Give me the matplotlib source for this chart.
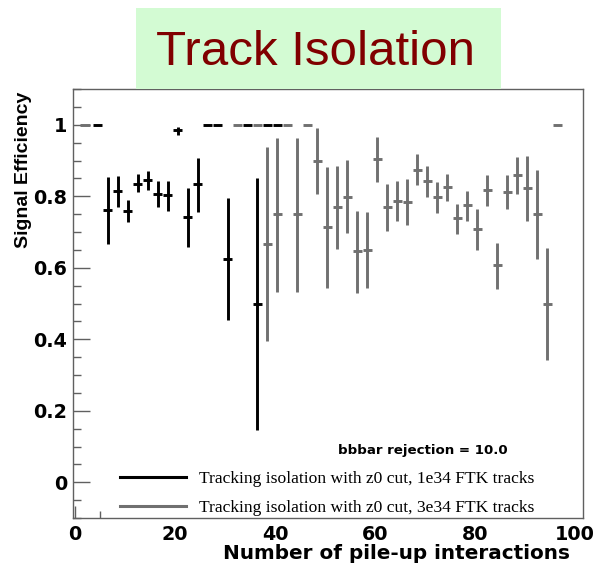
import matplotlib
matplotlib.use("Agg")
import matplotlib.pyplot as plt
from matplotlib.lines import Line2D
from matplotlib.patches import Rectangle
from matplotlib.ticker import FixedLocator, MultipleLocator

# ---- data ----
x_1e34 = [4.5, 6.5, 8.5, 10.5, 12.5, 14.5, 16.5, 18.5, 20.5, 22.5, 24.5, 26.5, 28.5,
          30.5, 34.5, 36.5, 38.5, 40.5]
y_1e34 = [1.0, 0.761, 0.816, 0.760, 0.835, 0.846, 0.807, 0.803, 0.984, 0.742, 0.833, 1.0, 1.0,
          0.625, 1.0, 0.5, 1.0, 1.0]
lo_1e34 = [0, 0.094, 0.045, 0.032, 0.023, 0.028, 0.037, 0.043, 0.014, 0.084, 0.077, 0, 0,
           0.172, 0, 0.353, 0, 0]
hi_1e34 = [0, 0.092, 0.040, 0.030, 0.026, 0.024, 0.037, 0.041, 0.011, 0.082, 0.075, 0, 0,
           0.171, 0, 0.352, 0, 0]

x_3e34 = [2.0, 32.5, 36.5, 38.5, 40.5, 42.5, 44.5, 46.5, 48.5, 50.5, 52.5, 54.5, 56.5, 58.5,
          60.5, 62.5, 64.5, 66.5, 68.5, 70.5, 72.5, 74.5, 76.5, 78.5, 80.5, 82.5, 84.5,
          86.5, 88.5, 90.5, 92.5, 94.5, 96.5]
y_3e34 = [1.0, 1.0, 1.0, 0.666, 0.749, 1.0, 0.749, 1.0, 0.899, 0.714, 0.769, 0.799, 0.647, 0.649,
          0.904, 0.769, 0.788, 0.785, 0.874, 0.843, 0.798, 0.826, 0.739, 0.775, 0.709, 0.818, 0.607,
          0.812, 0.859, 0.823, 0.749, 0.5, 1.0]
lo_3e34 = [0, 0, 0, 0.271, 0.217, 0, 0.217, 0, 0.094, 0.171, 0.117, 0.102, 0.117, 0.106,
           0.064, 0.067, 0.058, 0.064, 0.043, 0.045, 0.045, 0.040, 0.044, 0.043, 0.058, 0.044, 0.066,
           0.048, 0.052, 0.093, 0.125, 0.157, 0]
hi_3e34 = [0, 0, 0, 0.271, 0.215, 0, 0.215, 0, 0.093, 0.169, 0.116, 0.103, 0.113, 0.106,
           0.063, 0.066, 0.056, 0.063, 0.043, 0.042, 0.042, 0.037, 0.040, 0.041, 0.056, 0.042, 0.063,
           0.048, 0.052, 0.091, 0.125, 0.156, 0]
bin_halfwidth = 0.98

label_1e34 = "Tracking isolation with z0 cut, 1e34 FTK tracks"
label_3e34 = "Tracking isolation with z0 cut, 3e34 FTK tracks"
x_ticks = [0, 20, 40, 60, 80, 100]
x_ticklabels = ["0", "20", "40", "60", "80", "100"]
y_ticks = [0, 0.2, 0.4, 0.6, 0.8, 1.0]
y_ticklabels = ["0", "0.2", "0.4", "0.6", "0.8", "1"]

BLACK = "#000000"
GRAY = "#707070"
FRAME = "#606060"

fig = plt.figure(figsize=(5.95, 5.63), dpi=100)

# title box
fig.patches.append(Rectangle((0.2286, 0.8419), 0.6134, 0.1439, transform=fig.transFigure,
                             facecolor="#d3fbd3", edgecolor="none", zorder=0))
fig.text(0.531, 0.8845, "Track Isolation", ha="center", va="baseline",
         fontsize=35.5, color="#800000", family="Liberation Sans")

ax = fig.add_axes([0.1222, 0.0799, 0.8576, 0.762])
ax.set_xlim(-0.46, 101.6)
ax.set_ylim(-0.1, 1.1)

ax.errorbar(x_1e34, y_1e34, yerr=[lo_1e34, hi_1e34], xerr=bin_halfwidth, fmt="none",
            ecolor=BLACK, elinewidth=2.1, capsize=0, zorder=3)
ax.errorbar(x_3e34, y_3e34, yerr=[lo_3e34, hi_3e34], xerr=bin_halfwidth, fmt="none",
            ecolor=GRAY, elinewidth=2.1, capsize=0, zorder=4)

for s in ax.spines.values():
    s.set_color(FRAME)
    s.set_linewidth(1.0)

ax.set_yticks(y_ticks)
ax.set_yticklabels(y_ticklabels)
ax.yaxis.set_minor_locator(MultipleLocator(0.05))
ax.tick_params(axis="y", which="major", direction="in", length=12, width=1.0, color=FRAME, pad=4)
ax.tick_params(axis="y", which="minor", direction="in", length=6, width=1.0, color=FRAME)

ax.set_xticks(x_ticks)
ax.set_xticklabels(x_ticklabels)
ax.xaxis.set_minor_locator(FixedLocator([5]))
ax.tick_params(axis="x", which="major", direction="in", length=9, width=1.0, color=FRAME, pad=5)
ax.tick_params(axis="x", which="minor", direction="in", length=5, width=1.0, color=FRAME)
for t in ax.xaxis.get_major_ticks()[1:]:
    t.tick1line.set_visible(False)
    t.tick2line.set_visible(False)

for lab in ax.get_xticklabels() + ax.get_yticklabels():
    lab.set_fontweight("bold")
    lab.set_fontsize(13.8)
    lab.set_family("DejaVu Sans")

fig.text(0.0403, 0.698, "Signal Efficiency", rotation=90, ha="center", va="center",
         fontsize=14, fontweight="bold", family="Liberation Sans")
fig.text(0.958, 0.0071, "Number of pile-up interactions", ha="right", va="baseline",
         fontsize=14.4, fontweight="bold", family="DejaVu Sans")

ax.text(0.6865, 0.1565, "bbbar rejection = 10.0", transform=ax.transAxes, ha="center",
        va="center", fontsize=9.6, fontweight="bold", family="DejaVu Sans")

handles = [Line2D([], [], color=BLACK, lw=2.2), Line2D([], [], color=GRAY, lw=2.2)]
leg = ax.legend(handles, [label_1e34, label_3e34], loc="upper left",
                bbox_to_anchor=(0.0927, 0.11), borderaxespad=0, borderpad=0,
                frameon=False, handlelength=3.75, handletextpad=0.75, labelspacing=0.72,
                prop={"family": "Liberation Serif", "size": 12.6})

fig.savefig("out.png", dpi=100)
